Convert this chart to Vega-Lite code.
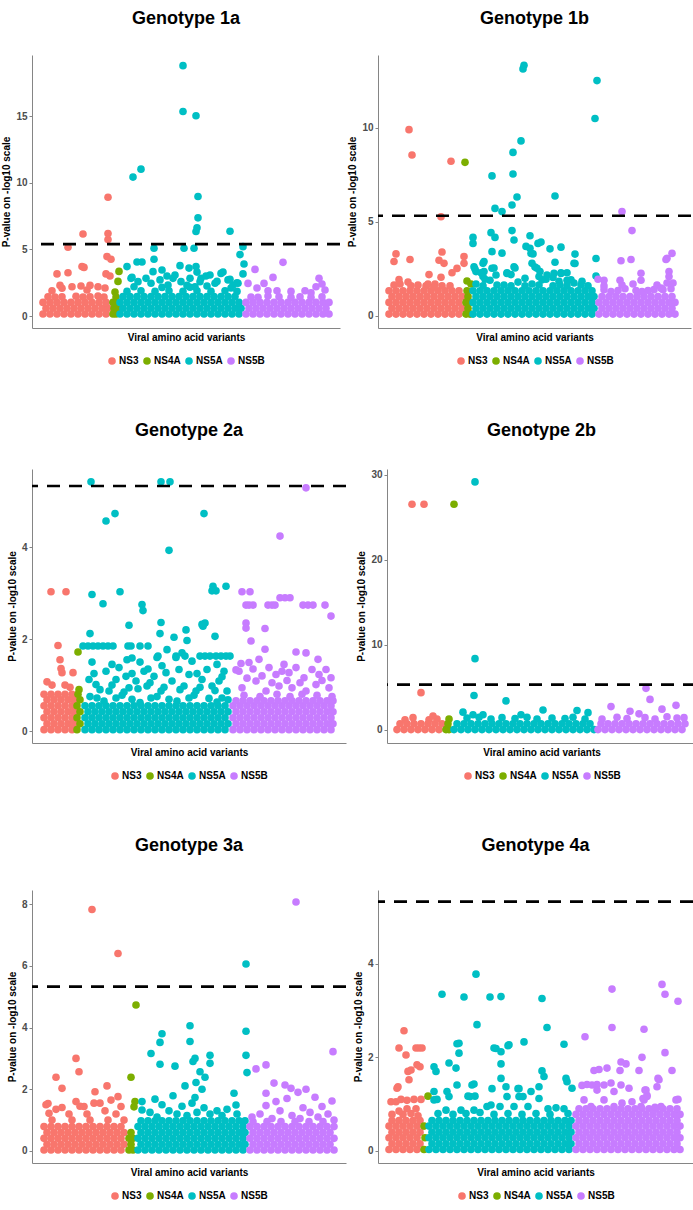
{
"$schema": "https://vega.github.io/schema/vega-lite/v6.json",
"padding": {"left": 1, "top": 10, "right": 2, "bottom": 4},
"spacing": 56,
"resolve": {"scale": {"color": "independent"}, "legend": {"color": "independent"}},
"config": {
  "font": "Liberation Sans",
  "view": {"stroke": null},
  "range": {"category": ["#F8766D", "#7CAE00", "#00BFC4", "#C77CFF"]},
  "axis": {"grid": false, "domainColor": "#858585", "domainWidth": 1, "tickColor": "#858585", "tickSize": 3, "labelColor": "#4D4D4D", "labelFontSize": 10, "labelFontWeight": "bold", "labelPadding": 2, "titleFontSize": 10, "titleFontWeight": "bold", "titleColor": "#000000", "titlePadding": 4},
  "axisX": {"labels": false, "ticks": false, "titlePadding": 4},
  "legend": {"orient": "bottom", "direction": "horizontal", "symbolType": "circle", "symbolSize": 58, "symbolStrokeWidth": 0, "labelFontSize": 10, "labelFontWeight": "bold", "labelColor": "#000000", "columnPadding": 3, "labelOffset": 2, "offset": 14, "padding": 0, "layout": {"bottom": {"anchor": "middle"}}},
  "title": {"fontSize": 18, "fontWeight": "bold", "color": "#000000", "anchor": "middle", "frame": "group"}
},
"vconcat": [
{"hconcat": [
{
"title": {"text": "Genotype 1a", "offset": 27},
"width": 308, "height": 273,
"layer": [
{"encoding": {
  "x": {"field": "x", "type": "quantitative", "scale": {"domain": [0, 308], "nice": false, "zero": false}, "axis": {"title": "Viral amino acid variants"}},
  "y": {"field": "y", "type": "quantitative", "scale": {"domain": [-0.9, 19.6], "nice": false, "zero": false}, "axis": {"title": "P-value on -log10 scale", "values": [0, 5, 10, 15]}}},
 "layer": [
  {"data": {"values": "x,y\n11,0.15\n18,0.15\n25,0.15\n32,0.15\n39,0.15\n46,0.15\n53,0.15\n60,0.15\n67,0.15\n74,0.15\n14,0.58\n21,0.58\n28,0.58\n35,0.58\n42,0.58\n49,0.58\n56,0.58\n63,0.58\n70,0.58\n76,0.58\n11,1.02\n18,1.02\n25,1.02\n32,1.02\n39,1.02\n46,1.02\n53,1.02\n60,1.02\n67,1.02\n74,1.02\n16,1.45\n23,1.42\n30,1.45\n44,1.48\n51,1.42\n58,1.45\n66,1.5\n72,1.42\n20,1.9\n55,1.95\n28,2.3\n30,2.08\n40,2.2\n49,2.25\n58,2.3\n66,2.2\n73,2.1\n25,3.16\n36,3.25\n74,3.16\n78,3\n50,3.71\n52,3.65\n75,4.46\n79,4.26\n36,5.16\n51,6.16\n76,5.75\n76,6.2\n76,8.92", "format": {"type": "csv", "parse": {"x": "number", "y": "number"}}},
   "mark": {"type": "circle", "size": 58, "opacity": 1}, "encoding": {"color": {"datum": "NS3", "legend": {"title": null}}}},
  {"data": {"values": "x,y\n81,0.15\n84,0.15\n82,0.58\n85,0.58\n81,1.02\n84,1.02\n84,1.42\n83,1.8\n86,2.6\n87,3.35", "format": {"type": "csv", "parse": {"x": "number", "y": "number"}}},
   "mark": {"type": "circle", "size": 58, "opacity": 1}, "encoding": {"color": {"datum": "NS4A", "legend": {"title": null}}}},
  {"data": {"values": "x,y\n88,0.15\n95,0.15\n102,0.15\n109,0.15\n116,0.15\n123,0.15\n130,0.15\n137,0.15\n144,0.15\n151,0.15\n158,0.15\n165,0.15\n172,0.15\n179,0.15\n186,0.15\n193,0.15\n200,0.15\n207,0.15\n91,0.58\n98,0.58\n105,0.58\n112,0.58\n119,0.58\n126,0.58\n133,0.58\n140,0.58\n147,0.58\n154,0.58\n161,0.58\n168,0.58\n175,0.58\n182,0.58\n189,0.58\n196,0.58\n203,0.58\n209,0.58\n88,1.02\n95,1.02\n102,1.02\n109,1.02\n116,1.02\n123,1.02\n130,1.02\n137,1.02\n144,1.02\n151,1.02\n158,1.02\n165,1.02\n172,1.02\n179,1.02\n186,1.02\n193,1.02\n200,1.02\n207,1.02\n91,1.46\n98,1.46\n105,1.46\n112,1.46\n119,1.46\n126,1.46\n133,1.46\n140,1.46\n147,1.46\n154,1.46\n161,1.46\n168,1.46\n175,1.46\n182,1.46\n189,1.46\n196,1.46\n203,1.46\n95,1.85\n109,1.9\n123,1.85\n137,1.9\n151,1.85\n165,1.9\n179,1.85\n193,1.9\n205,1.85\n102,2.2\n130,2.15\n155,2.3\n175,2.25\n199,2.1\n99,2.83\n106,2.58\n114,2.83\n119,2.46\n128,2.71\n136,2.33\n143,3.08\n149,2.58\n158,2.83\n163,2.2\n169,2.83\n178,3.08\n183,2.46\n189,3.2\n196,2.71\n201,2.33\n206,2.46\n100,2.9\n135,3\n141,2.83\n158,2.16\n168,2.58\n174,3\n185,2.6\n198,2.75\n205,2.5\n191,3.3\n211,3.16\n121,3.33\n130,3.46\n165,3.3\n95,3.71\n148,3.78\n157,3.6\n164,3.71\n212,3.91\n105,4.06\n110,4.06\n122,4.26\n208,4.61\n122,5.09\n152,5.09\n162,5.09\n211,5.21\n164,6.35\n165,6.62\n198,6.37\n166,7.37\n166,8.97\n101,10.43\n109,11.03\n164,15.04\n151,15.36\n151,18.8", "format": {"type": "csv", "parse": {"x": "number", "y": "number"}}},
   "mark": {"type": "circle", "size": 58, "opacity": 1}, "encoding": {"color": {"datum": "NS5A", "legend": {"title": null}}}},
  {"data": {"values": "x,y\n214,0.15\n221,0.15\n228,0.15\n235,0.15\n242,0.15\n249,0.15\n256,0.15\n263,0.15\n270,0.15\n277,0.15\n284,0.15\n291,0.15\n297,0.15\n217,0.58\n224,0.58\n231,0.58\n238,0.58\n245,0.58\n252,0.58\n259,0.58\n266,0.58\n273,0.58\n280,0.58\n287,0.58\n294,0.58\n214,1.02\n221,1.02\n228,1.02\n235,1.02\n242,1.02\n249,1.02\n256,1.02\n263,1.02\n270,1.02\n277,1.02\n284,1.02\n291,1.02\n297,1.02\n219,1.42\n226,1.4\n236,1.5\n247,1.45\n259,1.4\n268,1.45\n279,1.4\n290,1.45\n236,1.9\n259,1.85\n273,1.9\n279,1.75\n245,1.9\n225,2.1\n284,2.2\n293,1.95\n290,2.4\n216,2.45\n232,2.45\n287,2.83\n241,2.9\n223,3.5\n251,4.03", "format": {"type": "csv", "parse": {"x": "number", "y": "number"}}},
   "mark": {"type": "circle", "size": 58, "opacity": 1}, "encoding": {"color": {"datum": "NS5B", "legend": {"title": null}}}}
 ]},
{"data": {"values": [{"t": 5.4}]}, "mark": {"type": "rule", "strokeDash": [13, 9], "strokeWidth": 2.7, "color": "#000000"}, "encoding": {"y": {"field": "t", "type": "quantitative", "title": "P-value on -log10 scale"}}}
]},
{
"title": {"text": "Genotype 1b", "offset": 27},
"width": 313, "height": 273,
"layer": [
{"encoding": {
  "x": {"field": "x", "type": "quantitative", "scale": {"domain": [0, 313], "nice": false, "zero": false}, "axis": {"title": "Viral amino acid variants"}},
  "y": {"field": "y", "type": "quantitative", "scale": {"domain": [-0.64, 13.88], "nice": false, "zero": false}, "axis": {"title": "P-value on -log10 scale", "values": [0, 5, 10]}}},
 "layer": [
  {"data": {"values": "x,y\n11,0.1\n18,0.1\n25,0.1\n32,0.1\n39,0.1\n46,0.1\n53,0.1\n60,0.1\n67,0.1\n74,0.1\n81,0.1\n14,0.41\n21,0.41\n28,0.41\n35,0.41\n42,0.41\n49,0.41\n56,0.41\n63,0.41\n70,0.41\n77,0.41\n84,0.41\n11,0.72\n18,0.72\n25,0.72\n32,0.72\n39,0.72\n46,0.72\n53,0.72\n60,0.72\n67,0.72\n74,0.72\n81,0.72\n14,1.03\n21,1.03\n28,1.03\n35,1.03\n42,1.03\n49,1.03\n56,1.03\n63,1.03\n70,1.03\n77,1.03\n84,1.03\n11,1.34\n18,1.34\n25,1.34\n32,1.34\n39,1.34\n46,1.34\n53,1.34\n60,1.34\n67,1.34\n74,1.34\n81,1.34\n16,1.65\n22,1.7\n33,1.6\n40,1.65\n48,1.6\n57,1.7\n64,1.6\n72,1.6\n21,1.93\n30,1.8\n50,1.7\n56,1.55\n51,2.2\n63,2.06\n74,2.3\n79,2.53\n16,2.9\n18,3.3\n32,3\n61,2.96\n66,2.8\n64,3.4\n86,2.8\n86,3.16\n63,5.28\n73,8.23\n34,8.56\n31,9.91", "format": {"type": "csv", "parse": {"x": "number", "y": "number"}}},
   "mark": {"type": "circle", "size": 58, "opacity": 1}, "encoding": {"color": {"datum": "NS3", "legend": {"title": null}}}},
  {"data": {"values": "x,y\n88,0.1\n92,0.1\n90,0.41\n88,0.72\n92,0.72\n90,1.03\n89,1.34\n89,1.86\n93,1.7\n87,8.17", "format": {"type": "csv", "parse": {"x": "number", "y": "number"}}},
   "mark": {"type": "circle", "size": 58, "opacity": 1}, "encoding": {"color": {"datum": "NS4A", "legend": {"title": null}}}},
  {"data": {"values": "x,y\n95,0.1\n102,0.1\n109,0.1\n116,0.1\n123,0.1\n130,0.1\n137,0.1\n144,0.1\n151,0.1\n158,0.1\n165,0.1\n172,0.1\n179,0.1\n186,0.1\n193,0.1\n200,0.1\n207,0.1\n214,0.1\n98,0.41\n105,0.41\n112,0.41\n119,0.41\n126,0.41\n133,0.41\n140,0.41\n147,0.41\n154,0.41\n161,0.41\n168,0.41\n175,0.41\n182,0.41\n189,0.41\n196,0.41\n203,0.41\n210,0.41\n216,0.41\n95,0.72\n102,0.72\n109,0.72\n116,0.72\n123,0.72\n130,0.72\n137,0.72\n144,0.72\n151,0.72\n158,0.72\n165,0.72\n172,0.72\n179,0.72\n186,0.72\n193,0.72\n200,0.72\n207,0.72\n214,0.72\n98,1.03\n105,1.03\n112,1.03\n119,1.03\n126,1.03\n133,1.03\n140,1.03\n147,1.03\n154,1.03\n161,1.03\n168,1.03\n175,1.03\n182,1.03\n189,1.03\n196,1.03\n203,1.03\n210,1.03\n216,1.03\n95,1.34\n102,1.34\n109,1.34\n116,1.34\n123,1.34\n130,1.34\n137,1.34\n144,1.34\n151,1.34\n158,1.34\n165,1.34\n172,1.34\n179,1.34\n186,1.34\n193,1.34\n200,1.34\n207,1.34\n214,1.34\n98,1.7\n112,1.9\n126,1.65\n140,1.8\n154,1.7\n168,1.95\n182,1.65\n196,1.75\n210,1.6\n105,1.6\n119,1.65\n133,1.6\n147,1.6\n161,1.65\n175,1.6\n189,1.6\n203,1.65\n164,1.92\n181,1.85\n193,1.92\n204,1.85\n96,2.62\n98,2.36\n106,2.9\n106,2.36\n114,2.54\n118,2.18\n129,2.3\n136,2.62\n153,3.33\n154,2.8\n159,2.54\n162,2.36\n169,2.18\n176,2.27\n183,2.3\n189,2.3\n196,2.8\n133,2.2\n147,2\n161,2.1\n175,2.05\n189,1.9\n105,2.1\n146,13.33\n145,13.14\n219,12.52\n217,10.5\n143,9.31\n135,8.7\n135,7.55\n114,7.45\n139,6.33\n177,6.38\n134,5.9\n117,5.72\n124,5.55\n134,4.54\n113,4.43\n117,4.18\n95,4.18\n95,3.86\n136,4.04\n152,4.27\n163,3.93\n160,3.86\n183,3.66\n172,3.57\n114,3.42\n124,3.34\n148,3.7\n152,3.6\n155,3.3\n197,3.29\n177,2.86\n197,2.79\n218,3.06\n105,2.8\n97,2.5\n116,2.55\n137,2.55\n129,2.26\n157,2.6\n183,2.26\n218,2.12\n103,2.3\n107,1.95", "format": {"type": "csv", "parse": {"x": "number", "y": "number"}}},
   "mark": {"type": "circle", "size": 58, "opacity": 1}, "encoding": {"color": {"datum": "NS5A", "legend": {"title": null}}}},
  {"data": {"values": "x,y\n221,0.1\n228,0.1\n235,0.1\n242,0.1\n249,0.1\n256,0.1\n263,0.1\n270,0.1\n277,0.1\n284,0.1\n291,0.1\n297,0.1\n224,0.41\n231,0.41\n238,0.41\n245,0.41\n252,0.41\n259,0.41\n266,0.41\n273,0.41\n280,0.41\n287,0.41\n294,0.41\n221,0.72\n228,0.72\n235,0.72\n242,0.72\n249,0.72\n256,0.72\n263,0.72\n270,0.72\n277,0.72\n284,0.72\n291,0.72\n297,0.72\n224,1.03\n231,1.03\n238,1.03\n245,1.03\n252,1.03\n259,1.03\n266,1.03\n273,1.03\n280,1.03\n287,1.03\n294,1.03\n226,1.4\n233,1.3\n240,1.35\n247,1.45\n258,1.35\n264,1.3\n270,1.35\n276,1.4\n285,1.4\n293,1.45\n244,5.55\n254,4.54\n243,2.94\n253,3\n288,3\n294,3.33\n289,3.07\n263,2.27\n263,1.9\n279,1.65\n283,1.48\n291,2.36\n291,2.1\n289,1.75\n242,1.9\n244,1.65\n226,1.9\n226,1.6\n220,1.95\n255,1.7\n295,1.75", "format": {"type": "csv", "parse": {"x": "number", "y": "number"}}},
   "mark": {"type": "circle", "size": 58, "opacity": 1}, "encoding": {"color": {"datum": "NS5B", "legend": {"title": null}}}}
 ]},
{"data": {"values": [{"t": 5.33}]}, "mark": {"type": "rule", "strokeDash": [13, 9], "strokeWidth": 2.7, "color": "#000000"}, "encoding": {"y": {"field": "t", "type": "quantitative", "title": "P-value on -log10 scale"}}}
]}
], "spacing": 5, "resolve": {"scale": {"color": "independent"}, "legend": {"color": "independent"}}},
{"hconcat": [
{
"title": {"text": "Genotype 2a", "offset": 29},
"width": 314, "height": 274,
"layer": [
{"encoding": {
  "x": {"field": "x", "type": "quantitative", "scale": {"domain": [0, 314], "nice": false, "zero": false}, "axis": {"title": "Viral amino acid variants"}},
  "y": {"field": "y", "type": "quantitative", "scale": {"domain": [-0.26, 5.7], "nice": false, "zero": false}, "axis": {"title": "P-value on -log10 scale", "values": [0, 2, 4]}}},
 "layer": [
  {"data": {"values": "x,y\n12,0.03\n19,0.03\n26,0.03\n33,0.03\n40,0.03\n15,0.16\n22,0.16\n29,0.16\n36,0.16\n42,0.16\n12,0.29\n19,0.29\n26,0.29\n33,0.29\n40,0.29\n15,0.42\n22,0.42\n29,0.42\n36,0.42\n42,0.42\n12,0.55\n19,0.55\n26,0.55\n33,0.55\n40,0.55\n15,0.68\n22,0.68\n29,0.68\n36,0.68\n42,0.68\n12,0.8\n19,0.8\n26,0.8\n33,0.8\n40,0.8\n15,1.07\n20,1\n33,1\n38,0.95\n30,1.27\n41,1.27\n29,1.36\n28,1.55\n26,1.86\n19,3.03\n34,3.03", "format": {"type": "csv", "parse": {"x": "number", "y": "number"}}},
   "mark": {"type": "circle", "size": 58, "opacity": 1}, "encoding": {"color": {"datum": "NS3", "legend": {"title": null}}}},
  {"data": {"values": "x,y\n45,0.03\n48,0.16\n45,0.29\n48,0.42\n45,0.55\n48,0.68\n46,0.8\n47,0.9\n46,1.72", "format": {"type": "csv", "parse": {"x": "number", "y": "number"}}},
   "mark": {"type": "circle", "size": 58, "opacity": 1}, "encoding": {"color": {"datum": "NS4A", "legend": {"title": null}}}},
  {"data": {"values": "x,y\n53,0.03\n60,0.03\n67,0.03\n74,0.03\n81,0.03\n88,0.03\n95,0.03\n102,0.03\n109,0.03\n116,0.03\n123,0.03\n130,0.03\n137,0.03\n144,0.03\n151,0.03\n158,0.03\n165,0.03\n172,0.03\n179,0.03\n186,0.03\n193,0.03\n56,0.16\n63,0.16\n70,0.16\n77,0.16\n84,0.16\n91,0.16\n98,0.16\n105,0.16\n112,0.16\n119,0.16\n126,0.16\n133,0.16\n140,0.16\n147,0.16\n154,0.16\n161,0.16\n168,0.16\n175,0.16\n182,0.16\n189,0.16\n196,0.16\n53,0.29\n60,0.29\n67,0.29\n74,0.29\n81,0.29\n88,0.29\n95,0.29\n102,0.29\n109,0.29\n116,0.29\n123,0.29\n130,0.29\n137,0.29\n144,0.29\n151,0.29\n158,0.29\n165,0.29\n172,0.29\n179,0.29\n186,0.29\n193,0.29\n56,0.42\n63,0.42\n70,0.42\n77,0.42\n84,0.42\n91,0.42\n98,0.42\n105,0.42\n112,0.42\n119,0.42\n126,0.42\n133,0.42\n140,0.42\n147,0.42\n154,0.42\n161,0.42\n168,0.42\n175,0.42\n182,0.42\n189,0.42\n196,0.42\n53,0.55\n60,0.55\n67,0.55\n74,0.55\n81,0.55\n88,0.55\n95,0.55\n102,0.55\n109,0.55\n116,0.55\n123,0.55\n130,0.55\n137,0.55\n144,0.55\n151,0.55\n158,0.55\n165,0.55\n172,0.55\n179,0.55\n186,0.55\n193,0.55\n57,1.12\n64,1.01\n74,1.3\n77,0.87\n84,1.12\n87,1.38\n94,1.19\n97,0.94\n104,1.09\n112,1.3\n115,0.98\n122,1.19\n129,0.87\n134,1.27\n140,1.09\n147,1.34\n152,0.98\n157,1.23\n164,0.87\n170,1.12\n175,1.34\n180,0.98\n187,1.09\n192,1.3\n195,0.87\n65,0.72\n84,0.72\n100,0.69\n119,0.72\n137,0.69\n157,0.72\n177,0.71\n190,0.72\n58,0.75\n72,0.65\n90,0.78\n108,0.62\n125,0.75\n145,0.65\n162,0.78\n185,0.63\n196,0.68\n68,0.9\n80,1\n92,0.85\n106,0.92\n118,1.05\n132,0.95\n148,0.9\n168,0.95\n183,0.88\n62,1.25\n100,1.25\n116,1.35\n165,1.25\n190,1.18\n60,1.5\n80,1.45\n95,1.55\n108,1.5\n130,1.42\n160,1.52\n185,1.45\n100,1.59\n125,1.6\n135,1.77\n144,1.6\n150,1.7\n51,1.85\n56,1.85\n61,1.85\n66,1.85\n71,1.85\n76,1.85\n81,1.85\n96,1.85\n99,1.85\n108,1.85\n116,1.85\n126,1.63\n144,1.63\n153,1.63\n168,1.63\n173,1.63\n178,1.63\n184,1.63\n189,1.63\n194,1.63\n198,1.63\n58,2.12\n128,2.12\n142,2.04\n154,2.2\n155,1.97\n171,2.28\n173,2.35\n183,2.06\n129,2.36\n170,2.32\n97,2.3\n71,2.77\n110,2.75\n111,2.62\n60,2.97\n88,3.03\n181,3.15\n184,3.05\n194,3.15\n180,3.05\n137,3.93\n74,4.57\n83,4.73\n172,4.73\n59,5.42\n129,5.42\n138,5.42", "format": {"type": "csv", "parse": {"x": "number", "y": "number"}}},
   "mark": {"type": "circle", "size": 58, "opacity": 1}, "encoding": {"color": {"datum": "NS5A", "legend": {"title": null}}}},
  {"data": {"values": "x,y\n201,0.03\n208,0.03\n215,0.03\n222,0.03\n229,0.03\n236,0.03\n243,0.03\n250,0.03\n257,0.03\n264,0.03\n271,0.03\n278,0.03\n285,0.03\n292,0.03\n299,0.03\n204,0.16\n211,0.16\n218,0.16\n225,0.16\n232,0.16\n239,0.16\n246,0.16\n253,0.16\n260,0.16\n267,0.16\n274,0.16\n281,0.16\n288,0.16\n295,0.16\n301,0.16\n201,0.29\n208,0.29\n215,0.29\n222,0.29\n229,0.29\n236,0.29\n243,0.29\n250,0.29\n257,0.29\n264,0.29\n271,0.29\n278,0.29\n285,0.29\n292,0.29\n299,0.29\n204,0.42\n211,0.42\n218,0.42\n225,0.42\n232,0.42\n239,0.42\n246,0.42\n253,0.42\n260,0.42\n267,0.42\n274,0.42\n281,0.42\n288,0.42\n295,0.42\n301,0.42\n201,0.55\n208,0.55\n215,0.55\n222,0.55\n229,0.55\n236,0.55\n243,0.55\n250,0.55\n257,0.55\n264,0.55\n271,0.55\n278,0.55\n285,0.55\n292,0.55\n299,0.55\n204,0.66\n211,0.66\n218,0.66\n225,0.66\n232,0.66\n239,0.66\n246,0.66\n253,0.66\n260,0.66\n267,0.66\n274,0.66\n281,0.66\n288,0.66\n295,0.66\n301,0.66\n212,0.78\n228,0.75\n245,0.8\n258,0.75\n270,0.8\n285,0.78\n300,0.75\n210,0.94\n224,1.09\n234,0.87\n247,0.98\n260,0.94\n274,0.87\n284,1.01\n297,0.94\n215,1.15\n230,1.2\n240,1.05\n255,1.1\n268,1.05\n290,1.1\n221,1.35\n250,1.3\n207,1.3\n217,1.49\n227,1.56\n237,1.38\n244,1.23\n252,1.45\n257,1.27\n264,1.38\n272,1.16\n280,1.34\n287,1.23\n294,1.34\n299,1.16\n264,1.72\n274,1.7\n204,1.33\n209,1.47\n286,1.56\n233,1.78\n219,1.96\n233,2.23\n214,2.24\n214,2.35\n299,2.5\n214,2.74\n217,2.74\n221,2.74\n236,2.74\n240,2.74\n243,2.74\n271,2.74\n276,2.74\n281,2.74\n293,2.74\n248,2.9\n253,2.9\n258,2.9\n210,3.03\n218,3.03\n248,4.24\n274,5.29", "format": {"type": "csv", "parse": {"x": "number", "y": "number"}}},
   "mark": {"type": "circle", "size": 58, "opacity": 1}, "encoding": {"color": {"datum": "NS5B", "legend": {"title": null}}}}
 ]},
{"data": {"values": [{"t": 5.33}]}, "mark": {"type": "rule", "strokeDash": [13, 9], "strokeWidth": 2.7, "color": "#000000"}, "encoding": {"y": {"field": "t", "type": "quantitative", "title": "P-value on -log10 scale"}}}
]},
{
"title": {"text": "Genotype 2b", "offset": 29},
"width": 309, "height": 274,
"layer": [
{"encoding": {
  "x": {"field": "x", "type": "quantitative", "scale": {"domain": [0, 309], "nice": false, "zero": false}, "axis": {"title": "Viral amino acid variants"}},
  "y": {"field": "y", "type": "quantitative", "scale": {"domain": [-1.53, 30.7], "nice": false, "zero": false}, "axis": {"title": "P-value on -log10 scale", "values": [0, 10, 20, 30]}}},
 "layer": [
  {"data": {"values": "x,y\n10,0.05\n17,0.05\n24,0.05\n31,0.05\n38,0.05\n45,0.05\n52,0.05\n13,0.73\n20,0.73\n27,0.73\n34,0.73\n41,0.73\n48,0.73\n55,0.73\n18,1.2\n26,1.45\n42,1.2\n50,1.3\n46,1.65\n34,4.39\n25,26.55\n37,26.55", "format": {"type": "csv", "parse": {"x": "number", "y": "number"}}},
   "mark": {"type": "circle", "size": 58, "opacity": 1}, "encoding": {"color": {"datum": "NS3", "legend": {"title": null}}}},
  {"data": {"values": "x,y\n59,0.05\n62,0.05\n61,0.73\n62,1.3\n67,26.55", "format": {"type": "csv", "parse": {"x": "number", "y": "number"}}},
   "mark": {"type": "circle", "size": 58, "opacity": 1}, "encoding": {"color": {"datum": "NS4A", "legend": {"title": null}}}},
  {"data": {"values": "x,y\n67,0.05\n74,0.05\n81,0.05\n88,0.05\n95,0.05\n102,0.05\n109,0.05\n116,0.05\n123,0.05\n130,0.05\n137,0.05\n144,0.05\n151,0.05\n158,0.05\n165,0.05\n172,0.05\n179,0.05\n186,0.05\n193,0.05\n200,0.05\n207,0.05\n70,0.73\n77,0.73\n84,0.73\n91,0.73\n98,0.73\n105,0.73\n112,0.73\n119,0.73\n126,0.73\n133,0.73\n140,0.73\n147,0.73\n154,0.73\n161,0.73\n168,0.73\n175,0.73\n182,0.73\n189,0.73\n196,0.73\n203,0.73\n80,1.4\n92,1.5\n104,1.3\n115,1.45\n128,1.35\n140,1.5\n150,1.3\n165,1.4\n178,1.35\n186,1.5\n198,1.3\n76,2.1\n86,1.8\n96,1.8\n134,1.8\n156,2.35\n190,2.3\n201,2.04\n119,3.42\n87,4.06\n88,8.39\n88,29.18", "format": {"type": "csv", "parse": {"x": "number", "y": "number"}}},
   "mark": {"type": "circle", "size": 58, "opacity": 1}, "encoding": {"color": {"datum": "NS5A", "legend": {"title": null}}}},
  {"data": {"values": "x,y\n211,0.05\n218,0.05\n225,0.05\n232,0.05\n239,0.05\n246,0.05\n253,0.05\n260,0.05\n267,0.05\n274,0.05\n281,0.05\n288,0.05\n295,0.05\n214,0.73\n221,0.73\n228,0.73\n235,0.73\n242,0.73\n249,0.73\n256,0.73\n263,0.73\n270,0.73\n277,0.73\n284,0.73\n291,0.73\n298,0.73\n215,1.3\n230,1.5\n240,1.35\n258,1.45\n268,1.3\n280,1.55\n290,1.4\n297,1.45\n252,1.9\n243,2.2\n275,2.45\n224,2.75\n289,2.9\n263,3.6\n259,4.9", "format": {"type": "csv", "parse": {"x": "number", "y": "number"}}},
   "mark": {"type": "circle", "size": 58, "opacity": 1}, "encoding": {"color": {"datum": "NS5B", "legend": {"title": null}}}}
 ]},
{"data": {"values": [{"t": 5.33}]}, "mark": {"type": "rule", "strokeDash": [13, 9], "strokeWidth": 2.7, "color": "#000000"}, "encoding": {"y": {"field": "t", "type": "quantitative", "title": "P-value on -log10 scale"}}}
]}
], "spacing": 8, "resolve": {"scale": {"color": "independent"}, "legend": {"color": "independent"}}},
{"hconcat": [
{
"title": {"text": "Genotype 3a", "offset": 35},
"width": 314, "height": 273,
"layer": [
{"encoding": {
  "x": {"field": "x", "type": "quantitative", "scale": {"domain": [0, 314], "nice": false, "zero": false}, "axis": {"title": "Viral amino acid variants"}},
  "y": {"field": "y", "type": "quantitative", "scale": {"domain": [-0.39, 8.46], "nice": false, "zero": false}, "axis": {"title": "P-value on -log10 scale", "values": [0, 2, 4, 6, 8]}}},
 "layer": [
  {"data": {"values": "x,y\n12,0.03\n19,0.03\n26,0.03\n33,0.03\n40,0.03\n47,0.03\n54,0.03\n61,0.03\n68,0.03\n75,0.03\n82,0.03\n89,0.03\n15,0.22\n22,0.22\n29,0.22\n36,0.22\n43,0.22\n50,0.22\n57,0.22\n64,0.22\n71,0.22\n78,0.22\n85,0.22\n92,0.22\n12,0.41\n19,0.41\n26,0.41\n33,0.41\n40,0.41\n47,0.41\n54,0.41\n61,0.41\n68,0.41\n75,0.41\n82,0.41\n89,0.41\n15,0.6\n22,0.6\n29,0.6\n36,0.6\n43,0.6\n50,0.6\n57,0.6\n64,0.6\n71,0.6\n78,0.6\n85,0.6\n92,0.6\n12,0.79\n19,0.79\n26,0.79\n33,0.79\n40,0.79\n47,0.79\n54,0.79\n61,0.79\n68,0.79\n75,0.79\n82,0.79\n89,0.79\n20,1\n40,1\n58,1\n76,1\n92,1\n17,1.22\n24,1.35\n30,1.41\n37,1.2\n48,1.45\n55,1.2\n73,1.3\n84,1.2\n89,1.44\n14,1.5\n16,1.54\n44,1.6\n52,1.44\n62,1.55\n68,1.55\n79,1.65\n86,1.76\n63,1.92\n30,2.03\n75,2.11\n24,2.39\n47,2.57\n44,3\n86,6.4\n60,7.83", "format": {"type": "csv", "parse": {"x": "number", "y": "number"}}},
   "mark": {"type": "circle", "size": 58, "opacity": 1}, "encoding": {"color": {"datum": "NS3", "legend": {"title": null}}}},
  {"data": {"values": "x,y\n97,0.03\n101,0.03\n99,0.22\n97,0.41\n101,0.41\n99,0.6\n102,1.43\n103,1.6\n99,2.39\n104,4.73", "format": {"type": "csv", "parse": {"x": "number", "y": "number"}}},
   "mark": {"type": "circle", "size": 58, "opacity": 1}, "encoding": {"color": {"datum": "NS4A", "legend": {"title": null}}}},
  {"data": {"values": "x,y\n106,0.03\n113,0.03\n120,0.03\n127,0.03\n134,0.03\n141,0.03\n148,0.03\n155,0.03\n162,0.03\n169,0.03\n176,0.03\n183,0.03\n190,0.03\n197,0.03\n204,0.03\n211,0.03\n109,0.22\n116,0.22\n123,0.22\n130,0.22\n137,0.22\n144,0.22\n151,0.22\n158,0.22\n165,0.22\n172,0.22\n179,0.22\n186,0.22\n193,0.22\n200,0.22\n207,0.22\n213,0.22\n106,0.41\n113,0.41\n120,0.41\n127,0.41\n134,0.41\n141,0.41\n148,0.41\n155,0.41\n162,0.41\n169,0.41\n176,0.41\n183,0.41\n190,0.41\n197,0.41\n204,0.41\n211,0.41\n109,0.6\n116,0.6\n123,0.6\n130,0.6\n137,0.6\n144,0.6\n151,0.6\n158,0.6\n165,0.6\n172,0.6\n179,0.6\n186,0.6\n193,0.6\n200,0.6\n207,0.6\n213,0.6\n106,0.79\n113,0.79\n120,0.79\n127,0.79\n134,0.79\n141,0.79\n148,0.79\n155,0.79\n162,0.79\n169,0.79\n176,0.79\n183,0.79\n190,0.79\n197,0.79\n204,0.79\n211,0.79\n109,0.98\n116,0.98\n123,0.98\n130,0.98\n137,0.98\n144,0.98\n151,0.98\n158,0.98\n165,0.98\n172,0.98\n179,0.98\n186,0.98\n193,0.98\n200,0.98\n207,0.98\n213,0.98\n125,1.1\n155,1.15\n118,1.25\n137,1.3\n145,1.2\n165,1.25\n178,1.2\n190,1.15\n205,1.2\n110,1.33\n130,1.5\n150,1.45\n160,1.55\n172,1.4\n185,1.3\n195,1.35\n110,1.6\n123,1.68\n141,1.79\n163,1.73\n202,1.87\n204,1.49\n170,2\n153,2.11\n164,2.22\n173,2.39\n168,2.57\n215,2.54\n143,2.75\n128,2.81\n178,2.84\n161,2.9\n163,3\n178,3.1\n214,3.1\n119,3.16\n128,3.52\n158,3.55\n130,3.8\n214,3.88\n158,4.06\n214,6.06", "format": {"type": "csv", "parse": {"x": "number", "y": "number"}}},
   "mark": {"type": "circle", "size": 58, "opacity": 1}, "encoding": {"color": {"datum": "NS5A", "legend": {"title": null}}}},
  {"data": {"values": "x,y\n218,0.03\n225,0.03\n232,0.03\n239,0.03\n246,0.03\n253,0.03\n260,0.03\n267,0.03\n274,0.03\n281,0.03\n288,0.03\n295,0.03\n302,0.03\n221,0.22\n228,0.22\n235,0.22\n242,0.22\n249,0.22\n256,0.22\n263,0.22\n270,0.22\n277,0.22\n284,0.22\n291,0.22\n298,0.22\n218,0.41\n225,0.41\n232,0.41\n239,0.41\n246,0.41\n253,0.41\n260,0.41\n267,0.41\n274,0.41\n281,0.41\n288,0.41\n295,0.41\n302,0.41\n221,0.6\n228,0.6\n235,0.6\n242,0.6\n249,0.6\n256,0.6\n263,0.6\n270,0.6\n277,0.6\n284,0.6\n291,0.6\n298,0.6\n218,0.79\n225,0.79\n232,0.79\n239,0.79\n246,0.79\n253,0.79\n260,0.79\n267,0.79\n274,0.79\n281,0.79\n288,0.79\n295,0.79\n302,0.79\n221,0.95\n235,0.95\n249,0.95\n263,0.95\n277,0.95\n291,0.95\n220,1.1\n228,1.2\n240,1.05\n248,1.3\n260,1.15\n268,1.05\n278,1.25\n286,1.1\n296,1.2\n302,1\n271,1.4\n290,1.44\n234,1.47\n244,1.6\n300,1.62\n255,1.7\n283,1.74\n234,1.87\n266,1.9\n274,2\n259,2.03\n253,2.14\n242,2.2\n224,2.66\n234,2.79\n301,3.22\n264,8.07", "format": {"type": "csv", "parse": {"x": "number", "y": "number"}}},
   "mark": {"type": "circle", "size": 58, "opacity": 1}, "encoding": {"color": {"datum": "NS5B", "legend": {"title": null}}}}
 ]},
{"data": {"values": [{"t": 5.33}]}, "mark": {"type": "rule", "strokeDash": [13, 9], "strokeWidth": 2.7, "color": "#000000"}, "encoding": {"y": {"field": "t", "type": "quantitative", "title": "P-value on -log10 scale"}}}
]},
{
"title": {"text": "Genotype 4a", "offset": 35},
"width": 315, "height": 273,
"layer": [
{"encoding": {
  "x": {"field": "x", "type": "quantitative", "scale": {"domain": [0, 315], "nice": false, "zero": false}, "axis": {"title": "Viral amino acid variants"}},
  "y": {"field": "y", "type": "quantitative", "scale": {"domain": [-0.26, 5.58], "nice": false, "zero": false}, "axis": {"title": "P-value on -log10 scale", "values": [0, 2, 4]}}},
 "layer": [
  {"data": {"values": "x,y\n11,0.03\n18,0.03\n25,0.03\n32,0.03\n39,0.03\n14,0.15\n21,0.15\n28,0.15\n35,0.15\n42,0.15\n11,0.28\n18,0.28\n25,0.28\n32,0.28\n39,0.28\n14,0.4\n21,0.4\n28,0.4\n35,0.4\n42,0.4\n11,0.53\n18,0.53\n25,0.53\n32,0.53\n39,0.53\n14,0.65\n21,0.65\n28,0.65\n35,0.65\n42,0.65\n14,0.78\n25,0.78\n33,0.8\n40,0.75\n21,0.85\n29,0.9\n38,0.9\n13,1.05\n18,1.05\n23,1.1\n29,1.08\n36,1.1\n43,1.1\n19,1.34\n20,1.37\n31,1.52\n30,1.7\n33,1.73\n42,1.8\n39,1.84\n28,2.05\n21,2.2\n38,2.2\n41,2.2\n44,2.2\n26,2.57", "format": {"type": "csv", "parse": {"x": "number", "y": "number"}}},
   "mark": {"type": "circle", "size": 58, "opacity": 1}, "encoding": {"color": {"datum": "NS3", "legend": {"title": null}}}},
  {"data": {"values": "x,y\n46,0.03\n47,0.28\n46,0.53\n50,1.17", "format": {"type": "csv", "parse": {"x": "number", "y": "number"}}},
   "mark": {"type": "circle", "size": 58, "opacity": 1}, "encoding": {"color": {"datum": "NS4A", "legend": {"title": null}}}},
  {"data": {"values": "x,y\n51,0.03\n58,0.03\n65,0.03\n72,0.03\n79,0.03\n86,0.03\n93,0.03\n100,0.03\n107,0.03\n114,0.03\n121,0.03\n128,0.03\n135,0.03\n142,0.03\n149,0.03\n156,0.03\n163,0.03\n170,0.03\n177,0.03\n184,0.03\n191,0.03\n54,0.15\n61,0.15\n68,0.15\n75,0.15\n82,0.15\n89,0.15\n96,0.15\n103,0.15\n110,0.15\n117,0.15\n124,0.15\n131,0.15\n138,0.15\n145,0.15\n152,0.15\n159,0.15\n166,0.15\n173,0.15\n180,0.15\n187,0.15\n193,0.15\n51,0.28\n58,0.28\n65,0.28\n72,0.28\n79,0.28\n86,0.28\n93,0.28\n100,0.28\n107,0.28\n114,0.28\n121,0.28\n128,0.28\n135,0.28\n142,0.28\n149,0.28\n156,0.28\n163,0.28\n170,0.28\n177,0.28\n184,0.28\n191,0.28\n54,0.4\n61,0.4\n68,0.4\n75,0.4\n82,0.4\n89,0.4\n96,0.4\n103,0.4\n110,0.4\n117,0.4\n124,0.4\n131,0.4\n138,0.4\n145,0.4\n152,0.4\n159,0.4\n166,0.4\n173,0.4\n180,0.4\n187,0.4\n193,0.4\n51,0.53\n58,0.53\n65,0.53\n72,0.53\n79,0.53\n86,0.53\n93,0.53\n100,0.53\n107,0.53\n114,0.53\n121,0.53\n128,0.53\n135,0.53\n142,0.53\n149,0.53\n156,0.53\n163,0.53\n170,0.53\n177,0.53\n184,0.53\n191,0.53\n54,0.65\n61,0.65\n68,0.65\n75,0.65\n82,0.65\n89,0.65\n96,0.65\n103,0.65\n110,0.65\n117,0.65\n124,0.65\n131,0.65\n138,0.65\n145,0.65\n152,0.65\n159,0.65\n166,0.65\n173,0.65\n180,0.65\n187,0.65\n193,0.65\n60,0.8\n75,0.78\n88,0.8\n102,0.82\n116,0.78\n130,0.8\n144,0.78\n158,0.8\n172,0.78\n190,0.8\n68,0.87\n83,0.87\n96,0.87\n170,0.9\n178,0.92\n186,0.9\n109,0.95\n122,0.95\n136,0.95\n150,0.95\n113,0.98\n56,1.09\n59,1.1\n161,1.12\n71,1.16\n92,1.16\n129,1.16\n141,1.16\n145,1.16\n90,1.17\n97,1.17\n56,1.27\n69,1.27\n153,1.27\n114,1.33\n141,1.33\n140,1.33\n194,1.34\n128,1.37\n161,1.37\n94,1.41\n79,1.41\n96,1.43\n189,1.48\n123,1.55\n188,1.55\n166,1.59\n58,1.7\n164,1.71\n78,1.77\n56,1.8\n123,1.86\n71,1.88\n81,2.09\n123,2.12\n118,2.19\n116,2.2\n130,2.25\n186,2.28\n131,2.27\n79,2.29\n81,2.3\n146,2.33\n169,2.64\n99,2.7\n164,3.26\n86,3.29\n112,3.29\n123,3.3\n64,3.35\n98,3.78", "format": {"type": "csv", "parse": {"x": "number", "y": "number"}}},
   "mark": {"type": "circle", "size": 58, "opacity": 1}, "encoding": {"color": {"datum": "NS5A", "legend": {"title": null}}}},
  {"data": {"values": "x,y\n198,0.03\n205,0.03\n212,0.03\n219,0.03\n226,0.03\n233,0.03\n240,0.03\n247,0.03\n254,0.03\n261,0.03\n268,0.03\n275,0.03\n282,0.03\n289,0.03\n296,0.03\n302,0.03\n201,0.15\n208,0.15\n215,0.15\n222,0.15\n229,0.15\n236,0.15\n243,0.15\n250,0.15\n257,0.15\n264,0.15\n271,0.15\n278,0.15\n285,0.15\n292,0.15\n299,0.15\n198,0.28\n205,0.28\n212,0.28\n219,0.28\n226,0.28\n233,0.28\n240,0.28\n247,0.28\n254,0.28\n261,0.28\n268,0.28\n275,0.28\n282,0.28\n289,0.28\n296,0.28\n302,0.28\n201,0.4\n208,0.4\n215,0.4\n222,0.4\n229,0.4\n236,0.4\n243,0.4\n250,0.4\n257,0.4\n264,0.4\n271,0.4\n278,0.4\n285,0.4\n292,0.4\n299,0.4\n198,0.53\n205,0.53\n212,0.53\n219,0.53\n226,0.53\n233,0.53\n240,0.53\n247,0.53\n254,0.53\n261,0.53\n268,0.53\n275,0.53\n282,0.53\n289,0.53\n296,0.53\n302,0.53\n201,0.65\n208,0.65\n215,0.65\n222,0.65\n229,0.65\n236,0.65\n243,0.65\n250,0.65\n257,0.65\n264,0.65\n271,0.65\n278,0.65\n285,0.65\n292,0.65\n299,0.65\n198,0.78\n205,0.78\n212,0.78\n219,0.78\n226,0.78\n233,0.78\n240,0.78\n247,0.78\n254,0.78\n261,0.78\n268,0.78\n275,0.78\n282,0.78\n289,0.78\n296,0.78\n302,0.78\n201,0.9\n208,0.9\n215,0.9\n222,0.9\n229,0.9\n236,0.9\n243,0.9\n250,0.9\n257,0.9\n264,0.9\n271,0.9\n278,0.9\n285,0.9\n292,0.9\n299,0.9\n206,1.09\n213,0.95\n226,1.09\n236,0.95\n244,1.02\n254,1.05\n263,0.95\n276,0.88\n283,0.95\n277,0.93\n266,1.09\n298,1.09\n300,1.1\n265,1.12\n269,1.16\n269,1.19\n219,1.3\n236,1.27\n251,1.34\n267,1.3\n268,1.3\n204,1.4\n209,1.42\n219,1.42\n214,1.41\n226,1.41\n233,1.45\n243,1.41\n279,1.37\n281,1.52\n280,1.55\n216,1.72\n221,1.74\n229,1.77\n242,1.72\n261,1.72\n294,1.72\n248,1.86\n243,1.9\n264,2\n287,2.1\n207,2.44\n266,2.6\n234,2.64\n300,3.2\n287,3.35\n234,3.46\n284,3.56", "format": {"type": "csv", "parse": {"x": "number", "y": "number"}}},
   "mark": {"type": "circle", "size": 58, "opacity": 1}, "encoding": {"color": {"datum": "NS5B", "legend": {"title": null}}}}
 ]},
{"data": {"values": [{"t": 5.33}]}, "mark": {"type": "rule", "strokeDash": [13, 9], "strokeWidth": 2.7, "color": "#000000"}, "encoding": {"y": {"field": "t", "type": "quantitative", "title": "P-value on -log10 scale"}}}
]}
], "spacing": 5, "resolve": {"scale": {"color": "independent"}, "legend": {"color": "independent"}}}
]
}
